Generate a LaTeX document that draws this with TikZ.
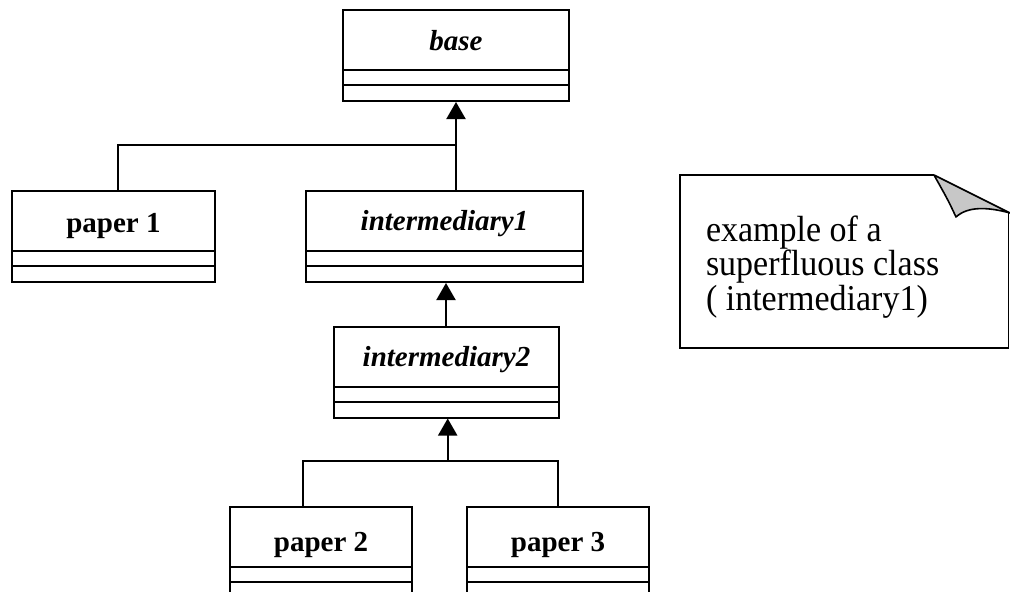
\documentclass[tikz,border=0pt]{standalone}
\usepackage{fontspec}
\setmainfont{Liberation Serif}
\usetikzlibrary{arrows.meta}
\newcommand\umlclass[7]{% #1 name, #2 x, #3 y, #4 width, #5 baseline offset, #6 font, #7 label
  \node[classbox, minimum width=#4pt] (#1) at (#2,#3) {};
  \node[classname, font=#6] (#1-label) at ([yshift=-#5pt]#1.north) {#7};
  \draw ([yshift=-61pt]#1.north west) -- ([yshift=-61pt]#1.north east);
  \draw ([yshift=-76pt]#1.north west) -- ([yshift=-76pt]#1.north east);
}
\begin{document}
\begin{tikzpicture}[x=1pt,y=-1pt,line width=2pt,
  classbox/.style={draw, rectangle, anchor=north west, inner sep=0pt, minimum height=91pt, line width=2pt},
  classname/.style={anchor=base, inner sep=0pt},
  inh/.style={-{Triangle[width=19pt,length=17pt]}},
  notebox/.style={line width=1.6pt},
  fold/.style={line width=1.6pt, fill=black!22, line join=round},
  notetext/.style={anchor=base west, align=left, inner sep=0pt, yscale=1.07, transform shape, font=\fontsize{34}{27.3}\selectfont}
]
\useasboundingbox (0,0) rectangle (1010,592);
\clip (0,0) rectangle (1010,592);

\umlclass{base}{342}{9}{226}{41.5}{\fontsize{29}{33}\selectfont\bfseries\itshape}{base}
\umlclass{paper1}{11}{190}{203}{42}{\fontsize{29}{33}\selectfont\bfseries}{paper 1}
\umlclass{int1}{305}{190}{277}{40.5}{\fontsize{29}{33}\selectfont\bfseries\itshape}{intermediary1}
\umlclass{int2}{333}{325.5}{225}{40.5}{\fontsize{29}{33}\selectfont\bfseries\itshape}{intermediary2}
\umlclass{paper2}{229}{506}{182}{45.5}{\fontsize{29}{33}\selectfont\bfseries}{paper 2}
\umlclass{paper3}{466}{506}{182}{45.5}{\fontsize{29}{33}\selectfont\bfseries}{paper 3}

% generalisation to base
\coordinate (j1) at (455,145);
\draw[inh] (int1.north -| base.south) -- (base.south);
\draw ([xshift=4pt]paper1.north) |- (j1);

% intermediary2 -> intermediary1
\draw[inh] ([xshift=-0.5pt]int2.north) -- ([xshift=-0.5pt]int2.north |- int1.south);

% paper2, paper3 -> intermediary2
\coordinate (j2) at (447.7,461);
\draw ([xshift=-18.3pt]paper2.north) |- (j2) -| (paper3.north);
\draw[inh] (j2) -- (j2 |- int2.south);

% note
\draw[notebox] (934,175) -- (680,175) -- (680,348) -- (1008.5,348) -- (1008.5,213);
\draw[fold] (934,175) -- (1010,213) .. controls (988,207) and (968,206) .. (956,217) .. controls (948,200) .. (934,175) -- cycle;
\node[notetext] (note) at (705,310) {example of a\\superfluous class\\( intermediary1)};
\end{tikzpicture}
\end{document}
